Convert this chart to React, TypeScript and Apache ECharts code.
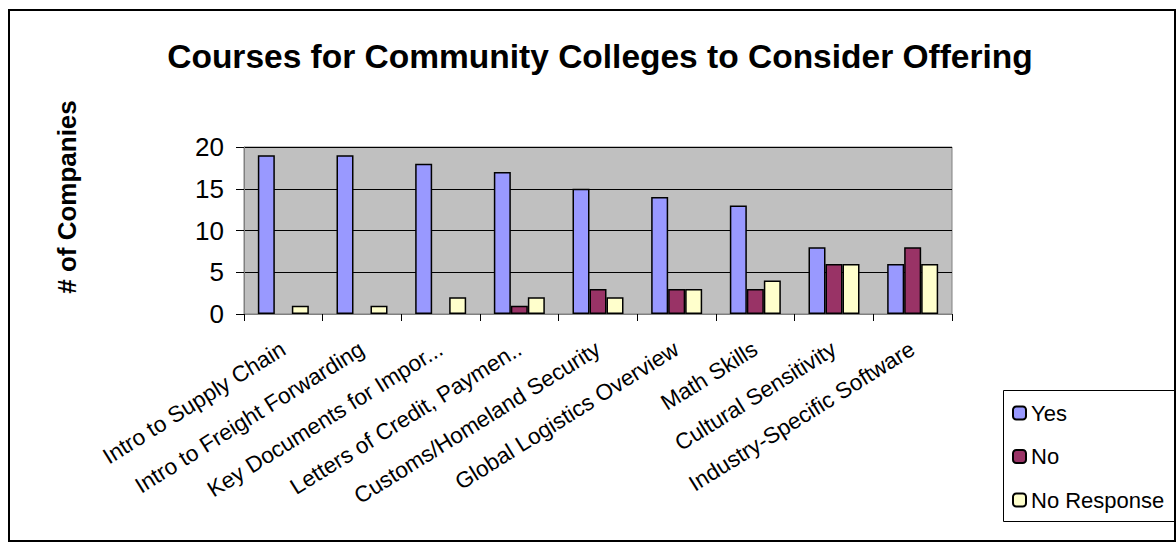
import React, { useEffect, useRef } from "react";
import * as echarts from "echarts";

const categories = [
  "Intro to Supply Chain",
  "Intro to Freight Forwarding",
  "Key Documents for Impor...",
  "Letters of Credit, Paymen..",
  "Customs/Homeland Security",
  "Global Logistics Overview",
  "Math Skills",
  "Cultural Sensitivity",
  "Industry-Specific Software",
];
const yesValues = [19, 19, 18, 17, 15, 14, 13, 8, 6];
const noValues = [0, 0, 0, 1, 3, 3, 3, 6, 8];
const noResponseValues = [1, 1, 2, 2, 2, 3, 4, 6, 6];
const seriesNames = ["Yes", "No", "No Response"];
const yTicks = { min: 0, max: 20, interval: 5 };

const FONT = "'Liberation Sans', Arial, sans-serif";

export default function App() {
  const ref = useRef<HTMLDivElement>(null);
  useEffect(() => {
    if (!ref.current) return;
    const chart = echarts.init(ref.current, null, { renderer: "svg" });
    const barStyle = (color: string) => ({
      color,
      borderColor: "#000",
      borderWidth: 1.5,
    });
    // zero-height bars are invisible in the reference
    const toData = (vals: number[]) =>
      vals.map((v) => (v === 0 ? { value: v, itemStyle: { borderWidth: 0 } } : v));
    chart.setOption({
      animation: false,
      backgroundColor: "#fff",
      textStyle: { fontFamily: FONT, color: "#000" },
      graphic: [
        {
          type: "rect",
          shape: { x: 9, y: 10, width: 1166, height: 531 },
          style: { fill: "none", stroke: "#000", lineWidth: 2 },
          silent: true,
        },
        {
          type: "rect",
          shape: { x: 1003.5, y: 390.5, width: 171, height: 131 },
          style: { fill: "#fff", stroke: "#000", lineWidth: 1 },
          silent: true,
          z: -1,
        },
        {
          type: "text",
          x: 600,
          y: 56,
          style: {
            text: "Courses for Community Colleges to Consider Offering",
            font: `bold 33.5px ${FONT}`,
            fill: "#000",
            align: "center",
            verticalAlign: "middle",
          },
        },
        {
          type: "text",
          x: 67,
          y: 197,
          rotation: Math.PI / 2,
          style: {
            text: "# of Companies",
            font: `bold 26px ${FONT}`,
            fill: "#000",
            align: "center",
            verticalAlign: "middle",
          },
        },
      ],
      legend: {
        orient: "vertical",
        left: 1012,
        top: 402,
        data: seriesNames,
        itemWidth: 13,
        itemHeight: 13,
        itemGap: 21.5,
        itemTextGap: 8,
        padding: 0,
        textStyle: { fontSize: 22, fontFamily: FONT, color: "#000" },
      },
      grid: {
        left: 244,
        right: 224,
        top: 147,
        bottom: 230,
        show: true,
        backgroundColor: "#C0C0C0",
        borderColor: "#808080",
        borderWidth: 1,
      },
      xAxis: {
        type: "category",
        data: categories,
        axisLine: { lineStyle: { color: "#808080", width: 1 } },
        axisTick: { show: true, length: 7, alignWithLabel: false, interval: 0, lineStyle: { color: "#000" } },
        axisLabel: {
          interval: 0,
          rotate: 32,
          margin: 33,
          fontSize: 22.5,
          fontFamily: FONT,
          color: "#000",
        },
      },
      yAxis: {
        type: "value",
        min: yTicks.min,
        max: yTicks.max,
        interval: yTicks.interval,
        axisLine: { show: true, lineStyle: { color: "#808080", width: 1 } },
        axisTick: { show: true, length: 8, lineStyle: { color: "#000" } },
        splitLine: { lineStyle: { color: "#000", width: 1 } },
        axisLabel: { fontSize: 26, margin: 20, fontFamily: FONT, color: "#000" },
      },
      series: [
        { name: seriesNames[0], type: "bar", data: toData(yesValues), barWidth: 17, barGap: "0%", itemStyle: barStyle("#9999FF") },
        { name: seriesNames[1], type: "bar", data: toData(noValues), barWidth: 17, barGap: "0%", itemStyle: barStyle("#993366") },
        { name: seriesNames[2], type: "bar", data: toData(noResponseValues), barWidth: 17, barGap: "0%", itemStyle: barStyle("#FFFFCC") },
      ],
    });
    return () => chart.dispose();
  }, []);
  return (
    <div
      ref={ref}
      style={{ position: "fixed", left: 0, top: 0, width: 1176, height: 544 }}
    />
  );
}
